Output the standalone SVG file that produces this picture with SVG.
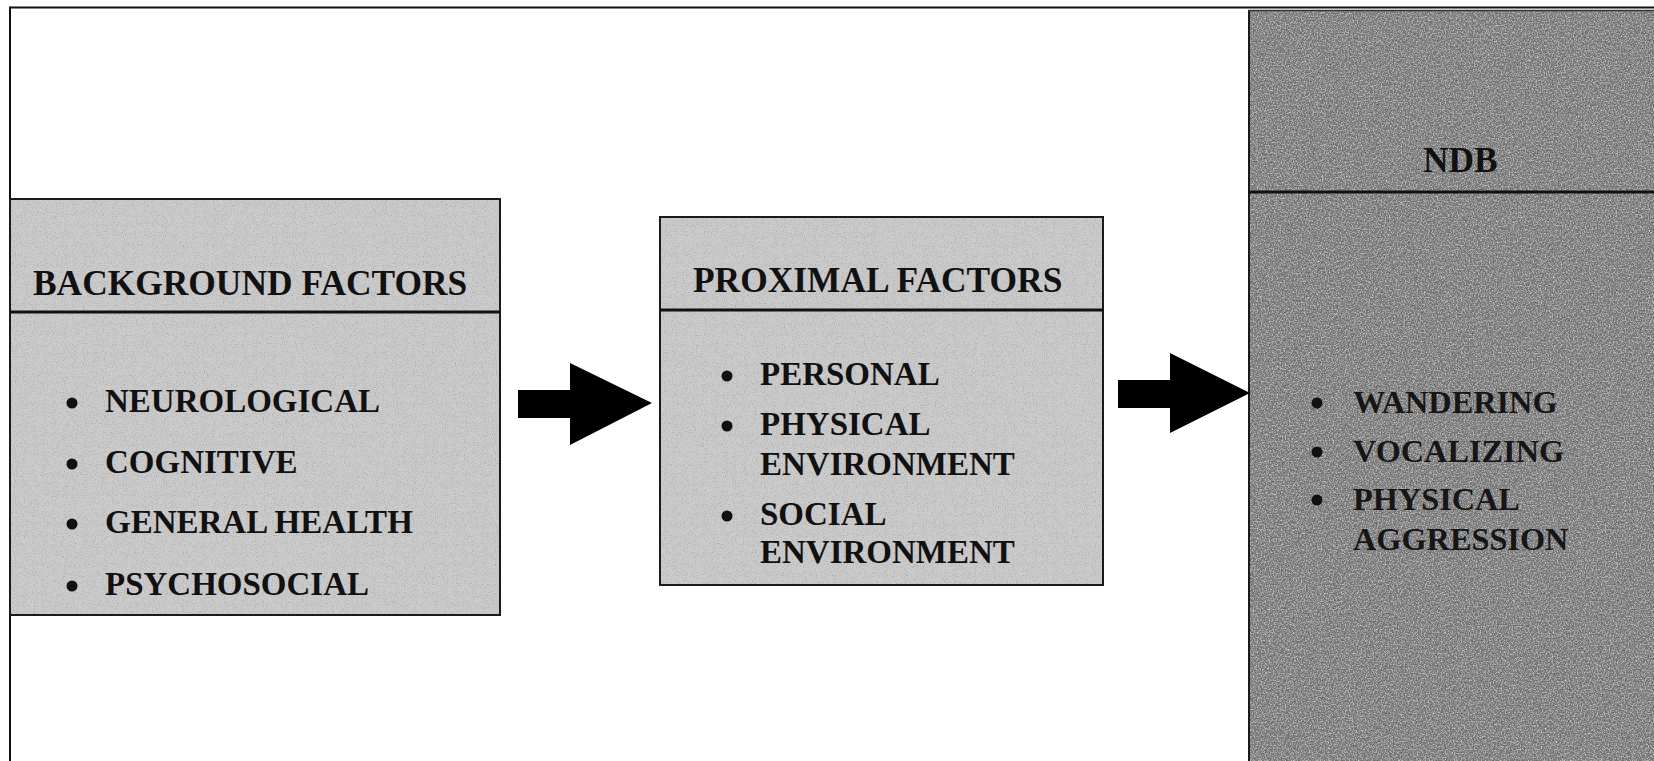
<svg xmlns="http://www.w3.org/2000/svg" width="1654" height="761" viewBox="0 0 1654 761">
  <defs>
    <style>
      .box { stroke: #1a1a1a; stroke-width: 2; }
      .light { fill: #cbcbcb; }
      .dark { fill: #7e7e7e; }
      .rule { stroke: #111; stroke-width: 3; }
      .title { font-family: "Liberation Serif", "Times New Roman", serif; font-weight: bold; font-size: 35.4px; fill: #111; }
      .item { font-family: "Liberation Serif", "Times New Roman", serif; font-weight: bold; font-size: 33px; fill: #111; }
      .item-s { font-family: "Liberation Serif", "Times New Roman", serif; font-weight: bold; font-size: 32.3px; fill: #161616; }
      .dot { fill: #111; }
      .arrow { fill: #000; }
    </style>
    <!-- fine halftone grain over the light panels -->
    <filter id="grain" x="0" y="0" width="100%" height="100%">
      <feTurbulence type="fractalNoise" baseFrequency="0.9" numOctaves="2" seed="7" result="noise"/>
      <feColorMatrix in="noise" type="matrix" values="0 0 0 0 0  0 0 0 0 0  0 0 0 0 0  0 0 0 -0.9 0.45" result="speck"/>
      <feComposite in="speck" in2="SourceGraphic" operator="in" result="clipped"/>
      <feMerge>
        <feMergeNode in="SourceGraphic"/>
        <feMergeNode in="clipped"/>
      </feMerge>
    </filter>
    <!-- coarser, stronger speckle for the dark panel -->
    <filter id="grain-dark" x="0" y="0" width="100%" height="100%">
      <feTurbulence type="fractalNoise" baseFrequency="0.75" numOctaves="2" seed="11" result="noise"/>
      <feColorMatrix in="noise" type="matrix" values="0 0 0 0 0  0 0 0 0 0  0 0 0 0 0  0 0 0 -1.6 0.75" result="darkSpeck"/>
      <feColorMatrix in="noise" type="matrix" values="0 0 0 0 1  0 0 0 0 1  0 0 0 0 1  0 0 0 1.4 -0.66" result="lightSpeck"/>
      <feComposite in="darkSpeck" in2="SourceGraphic" operator="in" result="d"/>
      <feComposite in="lightSpeck" in2="SourceGraphic" operator="in" result="l"/>
      <feMerge>
        <feMergeNode in="SourceGraphic"/>
        <feMergeNode in="d"/>
        <feMergeNode in="l"/>
      </feMerge>
    </filter>
  </defs>

  <rect width="1654" height="761" fill="#fff"/>

  <!-- outer frame -->
  <g id="frame" stroke="#111" stroke-width="2" fill="none">
    <line x1="10" y1="7.5" x2="1654" y2="7.5"/>
    <line x1="10" y1="6.5" x2="10" y2="761"/>
  </g>

  <g id="node-background">
    <rect class="light" x="10" y="199" width="490" height="416" filter="url(#grain)"/>
    <rect class="box" x="10" y="199" width="490" height="416" fill="none"/>
    <line class="rule" x1="10" y1="312" x2="500" y2="312"/>
    <text class="title" x="33" y="295">BACKGROUND FACTORS</text>
    <circle class="dot" cx="72" cy="403" r="5.5"/>
    <text class="item" x="105" y="412">NEUROLOGICAL</text>
    <circle class="dot" cx="72" cy="464" r="5.5"/>
    <text class="item" x="105" y="473">COGNITIVE</text>
    <circle class="dot" cx="72" cy="524" r="5.5"/>
    <text class="item" x="105" y="533">GENERAL HEALTH</text>
    <circle class="dot" cx="72" cy="586" r="5.5"/>
    <text class="item" x="105" y="595">PSYCHOSOCIAL</text>
  </g>

  <g id="node-proximal">
    <rect class="light" x="660" y="217" width="443" height="368" filter="url(#grain)"/>
    <rect class="box" x="660" y="217" width="443" height="368" fill="none"/>
    <line class="rule" x1="660" y1="310" x2="1103" y2="310"/>
    <text class="title" x="693" y="292">PROXIMAL FACTORS</text>
    <circle class="dot" cx="727" cy="376" r="5.5"/>
    <text class="item" x="760" y="385">PERSONAL</text>
    <circle class="dot" cx="727" cy="426" r="5.5"/>
    <text class="item" x="760" y="435">PHYSICAL</text>
    <text class="item" x="760" y="475">ENVIRONMENT</text>
    <circle class="dot" cx="727" cy="516" r="5.5"/>
    <text class="item" x="760" y="525">SOCIAL</text>
    <text class="item" x="760" y="563">ENVIRONMENT</text>
  </g>

  <g id="node-ndb">
    <rect class="dark" x="1248" y="10" width="406" height="751" filter="url(#grain-dark)"/>
    <line stroke="#1a1a1a" stroke-width="2" x1="1249" y1="10" x2="1249" y2="761"/>
    <line stroke="#333" stroke-width="1.5" x1="1248" y1="10.5" x2="1654" y2="10.5"/>
    <line class="rule" x1="1248" y1="192" x2="1654" y2="192"/>
    <text class="title" x="1423" y="172">NDB</text>
    <circle class="dot" cx="1317" cy="403" r="5.5"/>
    <text class="item-s" x="1353" y="413">WANDERING</text>
    <circle class="dot" cx="1317" cy="452" r="5.5"/>
    <text class="item-s" x="1353" y="462">VOCALIZING</text>
    <circle class="dot" cx="1317" cy="500" r="5.5"/>
    <text class="item-s" x="1353" y="510">PHYSICAL</text>
    <text class="item-s" x="1353" y="550">AGGRESSION</text>
  </g>

  <g id="connectors">
    <polygon class="arrow" points="518,390 570,390 570,363 652,403 570,445 570,418 518,418"/>
    <polygon class="arrow" points="1118,380 1170,380 1170,353 1250,393 1170,433 1170,408 1118,408"/>
  </g>
</svg>
